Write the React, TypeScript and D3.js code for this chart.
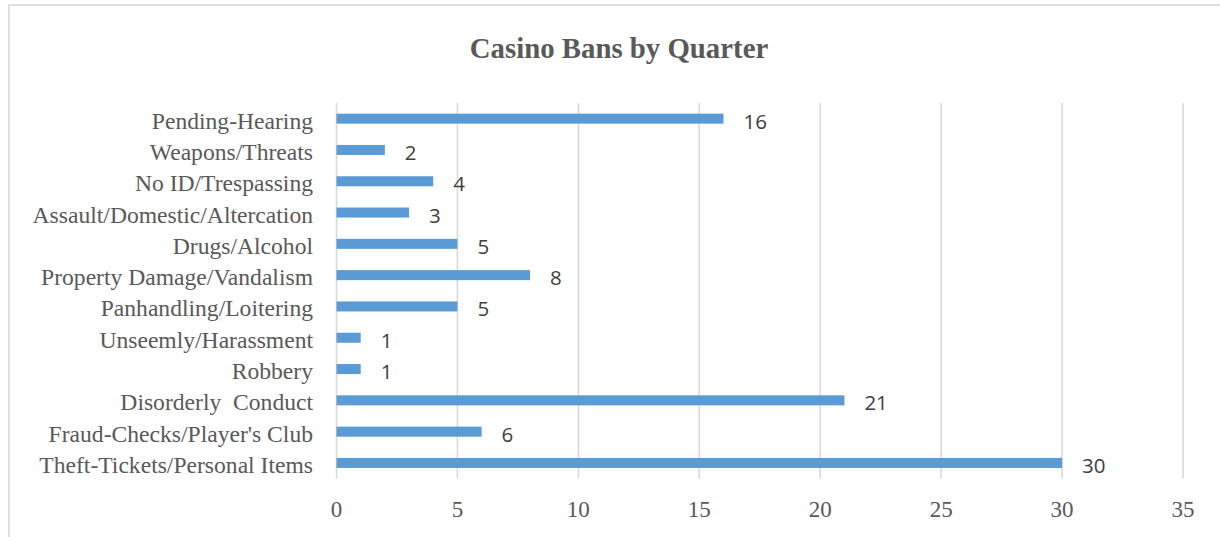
import React from "react";
import * as d3 from "d3";

const title = "Casino Bans by Quarter";
const categories = [
  "Pending-Hearing",
  "Weapons/Threats",
  "No ID/Trespassing",
  "Assault/Domestic/Altercation",
  "Drugs/Alcohol",
  "Property Damage/Vandalism",
  "Panhandling/Loitering",
  "Unseemly/Harassment",
  "Robbery",
  "Disorderly  Conduct",
  "Fraud-Checks/Player's Club",
  "Theft-Tickets/Personal Items",
];
const values = [16, 2, 4, 3, 5, 8, 5, 1, 1, 21, 6, 30];
const xTicks = [0, 5, 10, 15, 20, 25, 30, 35];

const W = 1220;
const H = 537;
const plotLeft = 336.5;
const plotRight = 1183;
const plotTop = 103;
const plotBottom = 478.6;

export default function App() {
  const x = d3.scaleLinear().domain([0, 35]).range([plotLeft, plotRight]);
  const y = d3
    .scaleBand<string>()
    .domain(categories)
    .range([plotTop, plotBottom])
    .paddingInner(0.68)
    .paddingOuter(0.34);
  const serif = "'Liberation Serif', 'Times New Roman', serif";
  const sans = "'Open Sans', 'Noto Sans', sans-serif";
  return (
    <svg
      width={W}
      height={H}
      style={{ position: "absolute", left: 0, top: 0, background: "#fff" }}
    >
      <rect x={9} y={5} width={1230} height={560} fill="#fff" stroke="#d9d9d9" strokeWidth={1.6} />
      <text
        x={619}
        y={58}
        textAnchor="middle"
        fontFamily={serif}
        fontWeight="bold"
        fontSize={28.8}
        fill="#595959"
      >
        {title}
      </text>
      {xTicks.map((t) => (
        <g key={t}>
          <line
            x1={x(t)}
            x2={x(t)}
            y1={plotTop}
            y2={plotBottom}
            stroke="#d9d9d9"
            strokeWidth={1.6}
          />
          <text
            x={x(t)}
            y={517}
            textAnchor="middle"
            fontFamily={serif}
            fontSize={23}
            fill="#595959"
          >
            {t}
          </text>
        </g>
      ))}
      {categories.map((c, i) => {
        const yc = (y(c) as number) + y.bandwidth() / 2;
        return (
          <g key={c}>
            <rect
              x={x(0)}
              y={y(c)}
              width={x(values[i]) - x(0)}
              height={y.bandwidth()}
              fill="#5b9bd5"
            />
            <text
              x={313}
              y={yc + 10}
              textAnchor="end"
              fontFamily={serif}
              fontSize={23.6}
              fill="#595959"
              style={{ whiteSpace: "pre" }}
            >
              {c}
            </text>
            <text
              x={x(values[i]) + 20}
              y={yc + 10}
              fontFamily={sans}
              fontSize={20.5}
              fill="#404040"
            >
              {values[i]}
            </text>
          </g>
        );
      })}
    </svg>
  );
}
